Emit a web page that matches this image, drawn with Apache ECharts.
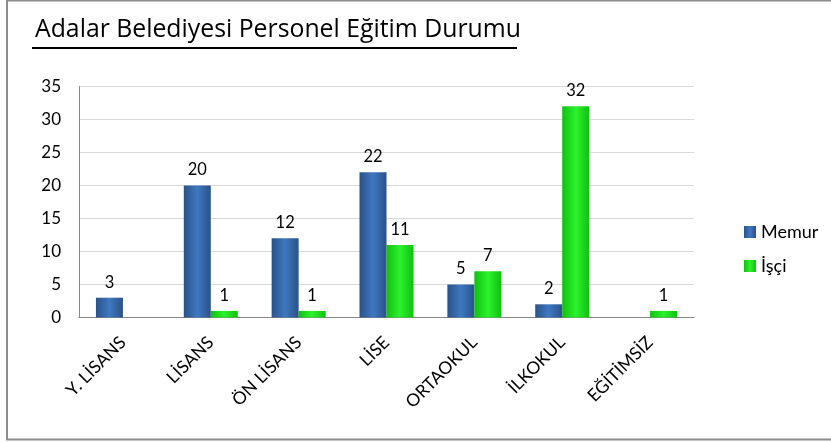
<!DOCTYPE html>
<html>
<head>
<meta charset="utf-8">
<script src="https://cdn.jsdelivr.net/npm/echarts@6/dist/echarts.min.js"></script>
<style>
html,body{margin:0;padding:0;background:#fff;}
#chart{width:831px;height:442px;}
</style>
</head>
<body>
<div id="chart"></div>
<script>
const titleText = 'Adalar Belediyesi Personel Eğitim Durumu';
const categories = ['Y. LİSANS', 'LİSANS', 'ÖN LİSANS', 'LİSE', 'ORTAOKUL', 'İLKOKUL', 'EĞİTİMSİZ'];
const memurValues = [3, 20, 12, 22, 5, 2, 0];
const isciValues = [0, 1, 1, 11, 7, 32, 1];
const seriesNames = ['Memur', 'İşçi'];
const yTicks = {min: 0, max: 35, interval: 5};

const FONT = 'Lato';
const chart = echarts.init(document.getElementById('chart'));

function grad(edge, mid) {
  return new echarts.graphic.LinearGradient(0, 0, 1, 0, [
    {offset: 0, color: edge},
    {offset: 0.5, color: mid},
    {offset: 1, color: edge}
  ]);
}

const labelCfg = {
  show: true,
  position: 'top',
  distance: 7,
  color: '#000',
  fontFamily: FONT,
  fontSize: 16.5,
  formatter: p => (p.value === 0 ? '' : String(p.value))
};

chart.setOption({
  backgroundColor: '#fff',
  animation: false,
  textStyle: {fontFamily: FONT},
  title: {
    text: titleText,
    left: 30,
    top: 12,
    textStyle: {fontFamily: 'Open Sans', fontSize: 24.8, fontWeight: 'normal', color: '#000'}
  },
  graphic: [
    {type: 'rect', shape: {x: 7, y: 0.5, width: 840, height: 439}, style: {fill: 'none', stroke: '#8c8c8c', lineWidth: 2}, silent: true},
    {type: 'line', shape: {x1: 32, y1: 48, x2: 517, y2: 48}, style: {stroke: '#000', lineWidth: 2}, silent: true}
  ],
  legend: {
    orient: 'vertical',
    left: 739,
    top: 218,
    itemWidth: 12,
    itemHeight: 12,
    itemGap: 16,
    icon: 'rect',
    textStyle: {fontFamily: FONT, fontSize: 18, color: '#000'},
    data: seriesNames
  },
  grid: {left: 79, right: 137, top: 86.5, bottom: 124.5, containLabel: false},
  xAxis: {
    type: 'category',
    data: categories,
    axisLine: {lineStyle: {color: '#868686'}},
    axisTick: {show: false},
    axisLabel: {rotate: 45, fontFamily: FONT, fontSize: 17.5, color: '#000', margin: 22, interval: 0}
  },
  yAxis: {
    type: 'value',
    min: yTicks.min,
    max: yTicks.max,
    interval: yTicks.interval,
    axisLine: {show: true, lineStyle: {color: '#868686'}},
    axisTick: {show: false},
    axisLabel: {fontFamily: FONT, fontSize: 17, color: '#000', margin: 18},
    splitLine: {lineStyle: {color: '#d9d9d9', width: 1}}
  },
  series: [
    {
      name: seriesNames[0],
      type: 'bar',
      data: memurValues,
      barWidth: 27,
      barGap: '0%',
      itemStyle: {color: grad('#2a5288', '#3f78c0')},
      label: labelCfg
    },
    {
      name: seriesNames[1],
      type: 'bar',
      data: isciValues,
      barWidth: 27,
      barGap: '0%',
      itemStyle: {color: grad('#10c010', '#2cf22c')},
      label: labelCfg
    }
  ]
});
</script>
</body>
</html>
